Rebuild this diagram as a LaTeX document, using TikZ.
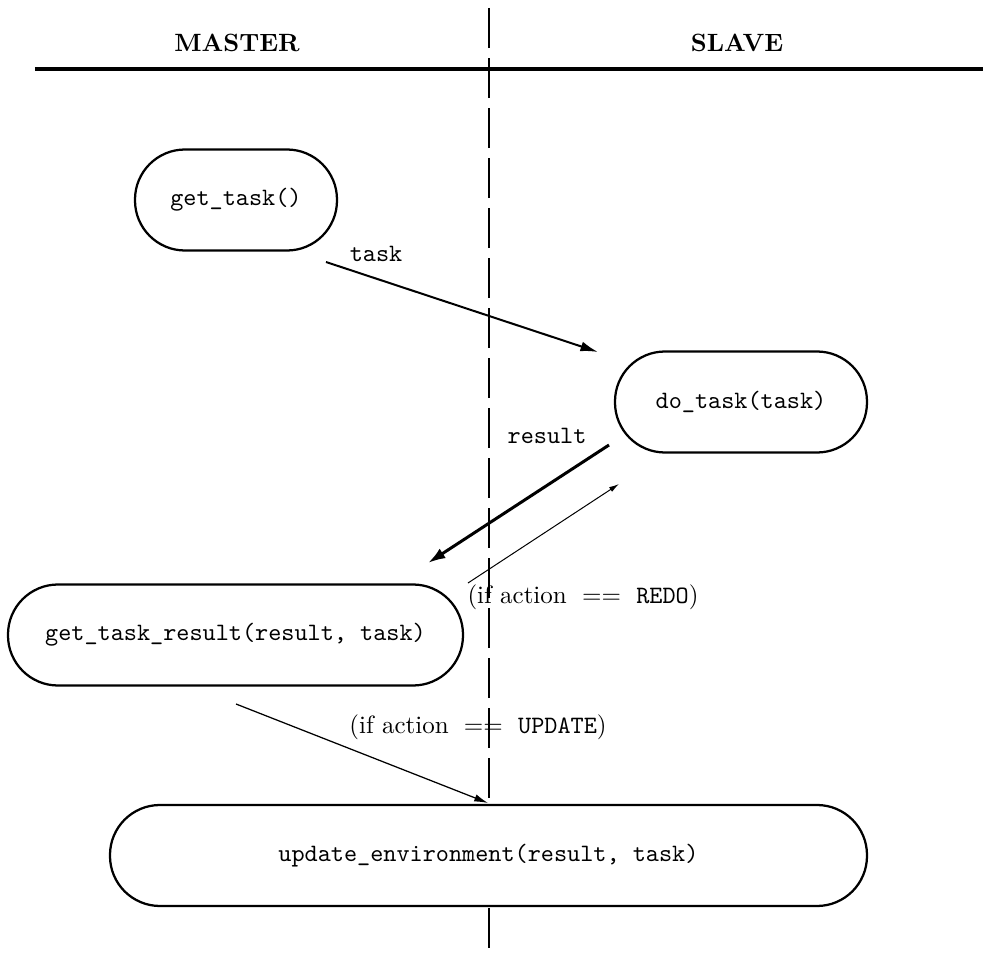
\documentclass[tikz,border=0pt]{standalone}
\usetikzlibrary{arrows.meta,positioning}

\begin{document}
\begin{tikzpicture}[x=0.4pt, y=-0.4pt,
    proc/.style={draw, fill=white, line width=0.9pt, rounded corners=20pt, minimum height=40.4pt, inner sep=0pt, font=\ttfamily},
    lbl/.style={inner sep=1pt},
    flow/.style={line width=0.8pt, -{Latex[length=7pt,width=4pt]}}]
    \useasboundingbox (0,0) rectangle (983,953);

    % Headings
    \node[lbl] (master) at (237,43) {\textbf{MASTER}};
    \node[lbl] (slave) at (737,43) {\textbf{SLAVE}};
    \draw[line width=1.2pt] (35,69) -- (983,69);
    \draw[line width=1pt, dash pattern=on 16pt off 4pt] (489,8) -- (489,953);

    % Master side
    \node[proc, minimum width=80.8pt] (gettask) at (236,200) {get\_task()};
    \node[proc, minimum width=182pt] (getresult) at (235.5,635) {get\_task\_result(result, task)};

    % Slave side
    \node[proc, minimum width=100.8pt] (dotask) at (741,402) {do\_task(task)};

    % Both sides
    \node[proc, minimum width=302.8pt] (update) at (488.5,855.5) {update\_environment(result, task)};

    % Arrow ends
    \coordinate (task-s) at (326,262);
    \coordinate (task-e) at (598,352);
    \coordinate (res-s) at (609,445);
    \coordinate (res-e) at (428,563);
    \coordinate (redo-s) at (468,583);
    \coordinate (redo-e) at (619,484);
    \coordinate (upd-s) at (236,704);
    \coordinate (upd-e) at (488,803);

    % Arrows
    \draw[flow] (task-s) -- (task-e);
    \draw[flow, line width=1.2pt, -{Latex[length=7pt,width=4.5pt]}] (res-s) -- (res-e);
    \draw[flow, line width=0.4pt, -{Latex[length=4pt,width=2.2pt]}] (redo-s) -- (redo-e);
    \draw[flow, line width=0.5pt, -{Latex[length=5.5pt,width=3pt]}] (upd-s) -- (upd-e);

    % Labels
    \node[lbl, font=\ttfamily] (tasklbl) at (376,254) {task};
    \node[lbl, font=\ttfamily] (reslbl) at (547,436) {result};
    \node[lbl] (redolbl) at (583,597) {(if action ${}=={}$ \texttt{REDO})};
    \node[lbl] (updlbl) at (478,727) {(if action ${}=={}$ \texttt{UPDATE})};
\end{tikzpicture}
\end{document}
